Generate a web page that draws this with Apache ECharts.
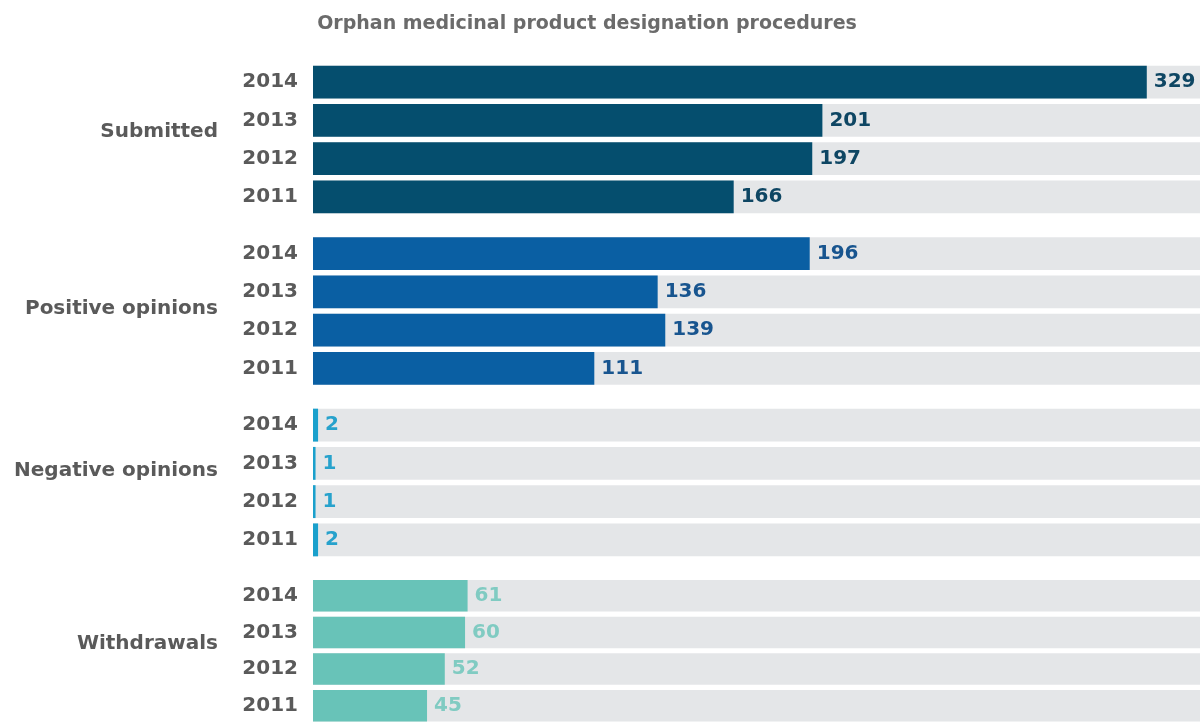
<!DOCTYPE html>
<html><head><meta charset="utf-8">
<script src="https://cdn.jsdelivr.net/npm/echarts@6/dist/echarts.min.js"></script>
<style>html,body{margin:0;padding:0;background:#fff}#c{width:1200px;height:724px}</style>
</head><body><div id="c"></div>
<script>
const titleText = 'Orphan medicinal product designation procedures';
const years = ['2014', '2013', '2012', '2011'];
const groups = ['Submitted', 'Positive opinions', 'Negative opinions', 'Withdrawals'];
const submitted = [329, 201, 197, 166];
const positiveOpinions = [196, 136, 139, 111];
const negativeOpinions = [2, 1, 1, 2];
const withdrawals = [61, 60, 52, 45];
const groupValues = [submitted, positiveOpinions, negativeOpinions, withdrawals];
const barColors = ['#054e6e', '#0a5fa3', '#1aa0cc', '#68c3b8'];
const labelColors = ['#0e4663', '#18558f', '#27a2cc', '#80cbc2'];

const FONT = 'DejaVu Sans';
const tops = [63, 234.5, 406, 577.5];
const gridH = 153;
const nameY = [132, 309, 471, 644];

const grid = [], xAxis = [], yAxis = [], series = [], graphic = [];
groups.forEach((g, i) => {
  grid.push({ left: 313, right: 0, top: tops[i], height: gridH, containLabel: false });
  xAxis.push({ gridIndex: i, type: 'value', min: 0, max: 350, show: false });
  yAxis.push({
    gridIndex: i, type: 'category', data: years, inverse: true,
    axisLine: { show: false }, axisTick: { show: false }, splitLine: { show: false },
    axisLabel: { margin: 15, color: '#5a5a5a', fontFamily: FONT, fontWeight: 'bold', fontSize: 20 }
  });
  series.push({
    type: 'bar', xAxisIndex: i, yAxisIndex: i, data: groupValues[i],
    barCategoryGap: '14%',
    itemStyle: { color: barColors[i] },
    showBackground: true, backgroundStyle: { color: '#e4e6e8' },
    label: { show: true, position: 'right', distance: 7, color: labelColors[i], fontFamily: FONT, fontWeight: 'bold', fontSize: 20 },
    animation: false
  });
  graphic.push({
    type: 'text', x: 218, y: nameY[i],
    style: { text: g, fill: '#5a5a5a', font: 'bold 20px "DejaVu Sans"', align: 'right', verticalAlign: 'middle' }
  });
});

const chart = echarts.init(document.getElementById('c'));
chart.setOption({
  backgroundColor: '#ffffff',
  animation: false,
  title: { text: titleText, left: 582, top: 10, textAlign: 'center',
    textStyle: { color: '#6b6b6b', fontFamily: FONT, fontWeight: 'bold', fontSize: 19 } },
  grid, xAxis, yAxis, series, graphic
});
</script></body></html>
